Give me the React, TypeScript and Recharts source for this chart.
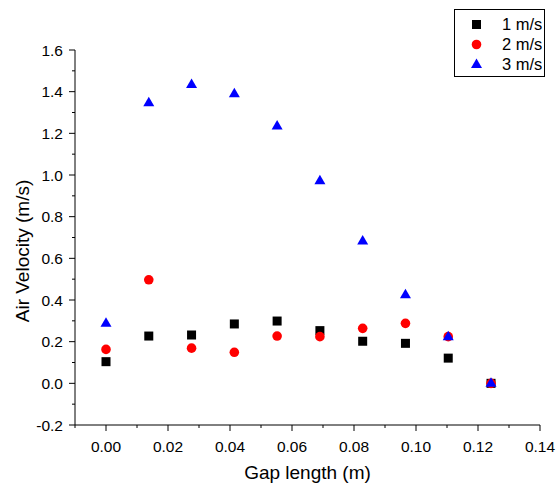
import { ScatterChart, Scatter, XAxis, YAxis, Label } from "recharts";

const gap = [0, 0.0138, 0.0276, 0.0414, 0.0552, 0.069, 0.0828, 0.0966, 0.1104, 0.1242];
const v1 = [0.104, 0.227, 0.232, 0.285, 0.299, 0.253, 0.202, 0.192, 0.121, 0];
const v2 = [0.163, 0.497, 0.169, 0.149, 0.227, 0.224, 0.264, 0.288, 0.224, 0];
const v3 = [0.288, 1.347, 1.434, 1.39, 1.235, 0.973, 0.683, 0.425, 0.224, 0];

const xTicks = [-0.01, 0, 0.01, 0.02, 0.03, 0.04, 0.05, 0.06, 0.07, 0.08, 0.09, 0.1, 0.11, 0.12, 0.13, 0.14];
const yTicks = [-0.2, -0.1, 0, 0.1, 0.2, 0.3, 0.4, 0.5, 0.6, 0.7, 0.8, 0.9, 1.0, 1.1, 1.2, 1.3, 1.4, 1.5, 1.6];

const seriesNames = ["1 m/s", "2 m/s", "3 m/s"];

const FONT = "'Liberation Sans', Arial, sans-serif";

const toPoints = (ys: number[]) => gap.map((x, i) => ({ x, y: ys[i] }));

const isMajor = (v: number) => Math.round(v * 100) % 2 === 0;
const isMajorY = (v: number) => Math.round(v * 10) % 2 === 0;

function XTick({ x, y, payload }: any) {
  const major = isMajor(payload.value);
  return (
    <g>
      <line x1={x} x2={x} y1={y} y2={y + (major ? 6 : 3)} stroke="#000" />
      {major && (
        <text x={x} y={y + 27} textAnchor="middle" fontSize={15.5} fontFamily={FONT} fill="#000">
          {payload.value.toFixed(2)}
        </text>
      )}
    </g>
  );
}

function YTick({ x, y, payload }: any) {
  const major = isMajorY(payload.value);
  return (
    <g>
      <line x1={x} x2={x - (major ? 6 : 3)} y1={y} y2={y} stroke="#000" />
      {major && (
        <text x={x - 12} y={y + 5.5} textAnchor="end" fontSize={15.5} fontFamily={FONT} fill="#000">
          {payload.value.toFixed(1)}
        </text>
      )}
    </g>
  );
}

const Square = (p: any) => <rect x={p.cx - 4.5} y={p.cy - 4.5} width={9} height={9} fill="#000" />;
const Dot = (p: any) => <circle cx={p.cx} cy={p.cy} r={4.8} fill="#ff0000" />;
const Tri = (p: any) => (
  <polygon
    points={`${p.cx},${p.cy - 6} ${p.cx + 5.5},${p.cy + 3.5} ${p.cx - 5.5},${p.cy + 3.5}`}
    fill="#0000ff"
  />
);

const legendMarks = [
  <rect key="a" x={6} y={6} width={9} height={9} fill="#000" />,
  <circle key="b" cx={10.5} cy={10.5} r={4.8} fill="#ff0000" />,
  <polygon key="c" points="10.5,4.5 16,14 5,14" fill="#0000ff" />,
];

export default function App() {
  return (
    <div style={{ position: "absolute", left: 0, top: 0, width: 556, height: 486, background: "#fff" }}>
      <ScatterChart width={556} height={486} margin={{ top: 50, right: 16, bottom: 0, left: 0 }}>
        <XAxis
          type="number"
          dataKey="x"
          domain={[-0.01, 0.14]}
          ticks={xTicks}
          interval={0}
          height={61}
          tickSize={0}
          tickMargin={0}
          tickLine={false}
          axisLine={{ stroke: "#000" }}
          tick={<XTick />}
          allowDataOverflow
        >
          <Label
            content={() => (
              <text x={307.5} y={479} textAnchor="middle" fontSize={19} fontFamily={FONT} fill="#000">
                Gap length (m)
              </text>
            )}
          />
        </XAxis>
        <YAxis
          type="number"
          dataKey="y"
          domain={[-0.2, 1.6]}
          ticks={yTicks}
          interval={0}
          width={75}
          tickSize={0}
          tickMargin={0}
          tickLine={false}
          axisLine={{ stroke: "#000" }}
          tick={<YTick />}
          allowDataOverflow
        >
          <Label
            content={() => (
              <text
                x={29}
                y={251}
                transform="rotate(-90 29 251)"
                textAnchor="middle"
                fontSize={19}
                fontFamily={FONT}
                fill="#000"
              >
                Air Velocity (m/s)
              </text>
            )}
          />
        </YAxis>
        <Scatter name={seriesNames[0]} data={toPoints(v1)} shape={Square} isAnimationActive={false} />
        <Scatter name={seriesNames[1]} data={toPoints(v2)} shape={Dot} isAnimationActive={false} />
        <Scatter name={seriesNames[2]} data={toPoints(v3)} shape={Tri} isAnimationActive={false} />
      </ScatterChart>
      <div
        style={{
          position: "absolute",
          left: 454,
          top: 9,
          width: 91,
          height: 68,
          border: "1px solid #000",
          fontFamily: FONT,
          fontSize: 16.5,
          boxSizing: "border-box",
        }}
      >
        {seriesNames.map((n, i) => (
          <div
            key={n}
            style={{ position: "absolute", left: 0, top: 4 + i * 20, height: 20, display: "flex", alignItems: "center" }}
          >
            <svg width={21} height={21} style={{ marginLeft: 11 }}>
              {legendMarks[i]}
            </svg>
            <span style={{ marginLeft: 15, lineHeight: "20px" }}>{n}</span>
          </div>
        ))}
      </div>
    </div>
  );
}
